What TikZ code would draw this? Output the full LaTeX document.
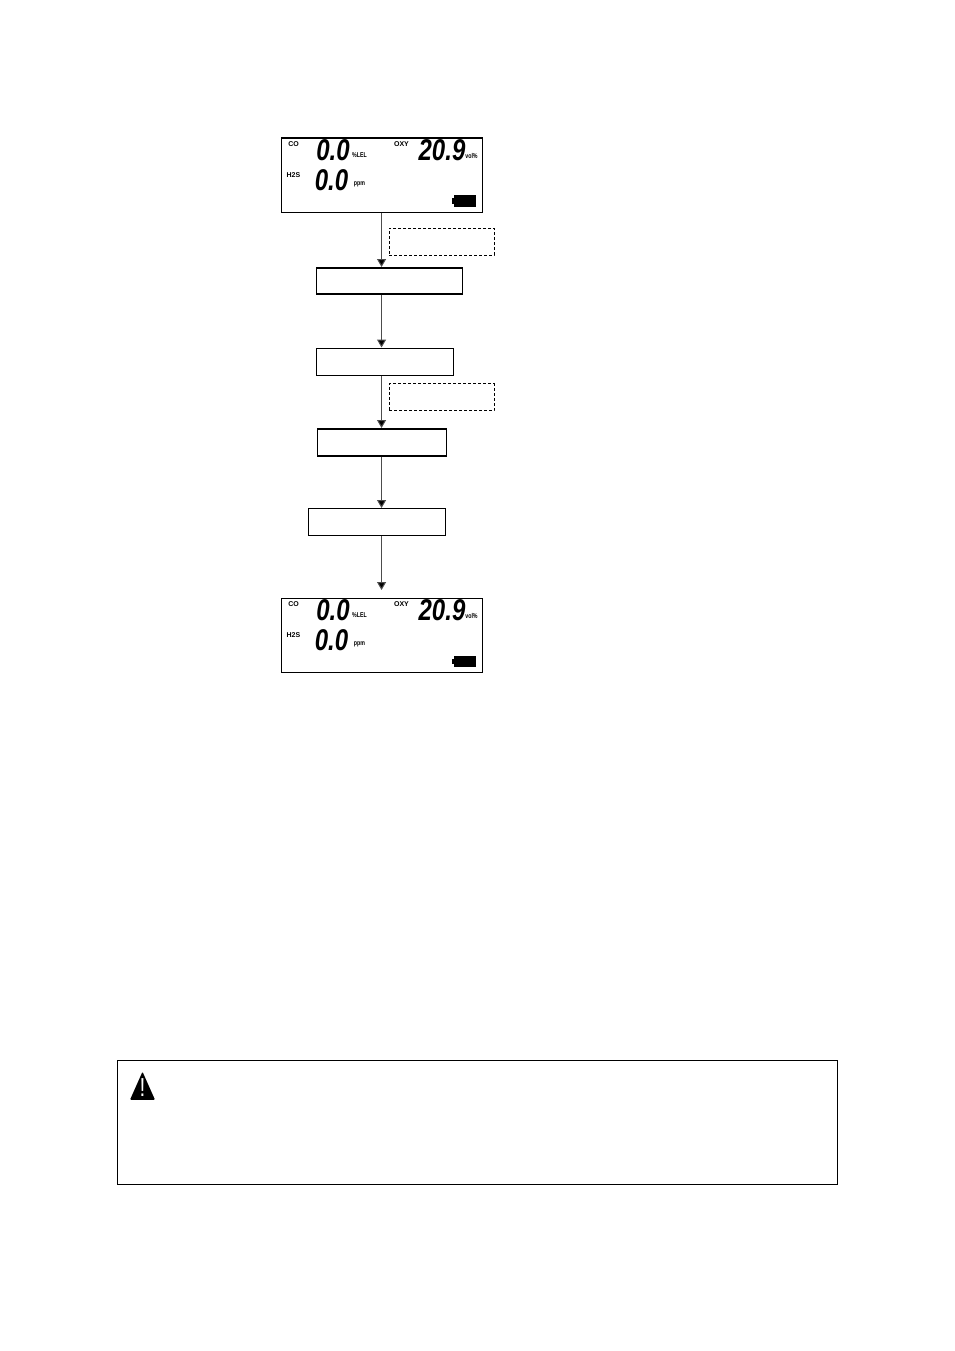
\documentclass[tikz,border=0pt]{standalone}
\usepackage{fontspec}
\setmainfont{Liberation Sans}
\usetikzlibrary{arrows.meta,shapes.geometric}

\tikzset{
    flowBox/.style={draw=black, fill=white, line width=1.5pt, inner sep=0pt, anchor=north west},
    noteBox/.style={draw=black, dashed, dash pattern=on 3pt off 2pt, line width=1pt, inner sep=0pt, anchor=north west},
    flowArrow/.style={draw=black!70, line width=1pt, -{Triangle[length=8pt,width=9pt,fill=black]}},
    lcdPanel/.style={draw=black, line width=1.1pt, inner sep=0pt, anchor=north west, minimum width=201pt, minimum height=74pt},
    lcdDigit/.style={inner sep=0pt, font=\bfseries\itshape\fontsize{30}{30}\selectfont},
    lcdTiny/.style={inner sep=0pt, font=\bfseries\fontsize{7}{7}\selectfont}
}

\newcommand{\lcdNumber}[1]{\scalebox{0.8}[1]{#1}}
\newcommand{\lcdUnit}[1]{\scalebox{0.75}[1]{#1}}

\begin{document}
\begin{tikzpicture}[x=1pt, y=-1pt]
    \useasboundingbox (0,0) rectangle (954,1351);

    % Display panels, top and bottom
    \foreach \panelName/\panelY in {panelTop/137.5, panelEnd/597.5} {
        \node[lcdPanel] (\panelName) at (280.5,\panelY) {};
        \begin{scope}[shift={(280.5,\panelY)}]
            \node[lcdTiny] (\panelName-co) at (13,7) {CO};
            \node[lcdTiny] (\panelName-hs) at (13,37.5) {H2S};
            \node[lcdTiny] (\panelName-oxy) at (121,7) {OXY};
            \node[lcdDigit] (\panelName-a) at (52.5,13) {\lcdNumber{0.0}};
            \node[lcdDigit] (\panelName-b) at (51,42.5) {\lcdNumber{0.0}};
            \node[lcdDigit] (\panelName-c) at (161.5,13) {\lcdNumber{20.9}};
            \node[lcdTiny] (\panelName-lel) at (79,18) {\lcdUnit{\%LEL}};
            \node[lcdTiny] (\panelName-ppm) at (79,47) {\lcdUnit{ppm}};
            \node[lcdTiny] (\panelName-vol) at (191,18) {\lcdUnit{vol\%}};
            % Battery
            \fill (173,58) rectangle (195,69);
            \fill (171,61) rectangle (173,66);
        \end{scope}
    }

    % Flow boxes
    \node[flowBox, minimum width=146pt, minimum height=26pt] (stepA) at (315.5,267) {};
    \node[flowBox, minimum width=137pt, minimum height=27pt, line width=1pt] (stepB) at (315.5,347.5) {};
    \node[flowBox, minimum width=129pt, minimum height=27pt] (stepC) at (316.5,428) {};
    \node[flowBox, minimum width=137pt, minimum height=27pt, line width=1pt] (stepD) at (307.5,508) {};

    % Dashed notes
    \node[noteBox, minimum width=105pt, minimum height=27pt] (noteA) at (388.5,227.7) {};
    \node[noteBox, minimum width=105pt, minimum height=27pt] (noteB) at (388.5,383.3) {};

    % Arrows down the flow
    \draw[flowArrow] (panelTop.south) -- (panelTop.south |- stepA.north);
    \draw[flowArrow] (panelTop.south |- stepA.south) -- (panelTop.south |- stepB.north);
    \draw[flowArrow] (panelTop.south |- stepB.south) -- (panelTop.south |- stepC.north);
    \draw[flowArrow] (panelTop.south |- stepC.south) -- (panelTop.south |- stepD.north);
    \draw[flowArrow, shorten >=7.5pt] (panelTop.south |- stepD.south) -- (panelEnd.north);

    % Caution box
    \node[flowBox, minimum width=720pt, minimum height=124pt] (cautionBox) at (116.7,1059.7) {};
    \node[fill=black, isosceles triangle, isosceles triangle apex angle=48, shape border rotate=90, inner sep=0pt, minimum height=28pt, minimum width=25pt, rounded corners=1pt, anchor=south] (cautionSign) at (142.5,1100) {};
    \node[text=white, inner sep=0pt, font=\fontsize{26}{26}\selectfont] (cautionMark) at (142.5,1087.5) {\scalebox{0.8}[1]{!}};
\end{tikzpicture}
\end{document}
